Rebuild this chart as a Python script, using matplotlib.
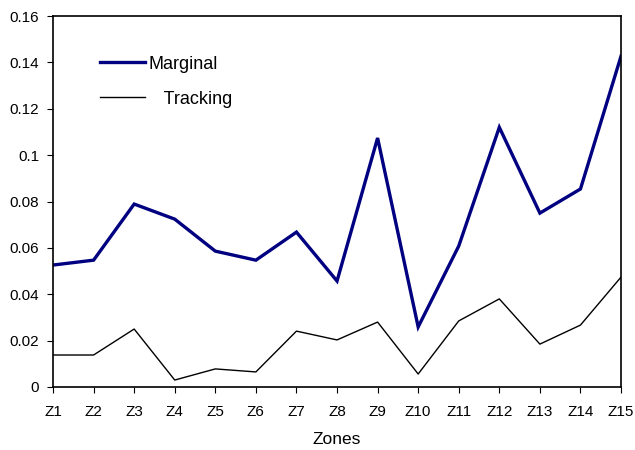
import matplotlib.pyplot as plt

plt.rcParams['font.family'] = ['Liberation Sans', 'DejaVu Sans']

zones = ['Z1', 'Z2', 'Z3', 'Z4', 'Z5', 'Z6', 'Z7', 'Z8', 'Z9', 'Z10',
         'Z11', 'Z12', 'Z13', 'Z14', 'Z15']
marginal = [0.0526, 0.0547, 0.0789, 0.0724, 0.0586, 0.0547, 0.0668, 0.0457,
            0.1074, 0.0259, 0.0608, 0.1120, 0.0750, 0.0854, 0.1427]
tracking = [0.0138, 0.0138, 0.0250, 0.0030, 0.0078, 0.0065, 0.0241, 0.0203,
            0.0280, 0.0056, 0.0285, 0.0380, 0.0185, 0.0267, 0.0474]

fig = plt.figure(figsize=(6.35, 4.5), dpi=100)
ax = fig.add_axes([0.0835, 0.14, 0.8945, 0.8244])

x = range(len(zones))
ax.plot(x, marginal, color='#000080', lw=2.4, label='Marginal', solid_joinstyle='miter')
ax.plot(x, tracking, color='black', lw=1.0, label='   Tracking')

ax.set_xlim(0, len(zones) - 1)
ax.set_ylim(0, 0.16)
ax.set_xticks(list(x))
ax.set_xticklabels(zones)
ax.set_yticks([0, 0.02, 0.04, 0.06, 0.08, 0.1, 0.12, 0.14, 0.16])
ax.set_yticklabels(['0', '0.02', '0.04', '0.06', '0.08', '0.1', '0.12', '0.14', '0.16'])
ax.tick_params(direction='out', length=4, labelsize=11, pad=6)
ax.tick_params(axis='x', pad=9)
for s in ax.spines.values():
    s.set_linewidth(1.2)
ax.set_xlabel('Zones', fontsize=12.5, labelpad=9)

ax.legend(loc='upper left', frameon=False, fontsize=13, handlelength=2.5,
          handletextpad=0.2, labelspacing=1.0, borderpad=0, borderaxespad=0,
          bbox_to_anchor=(0.083, 0.893))

fig.savefig('out.png', dpi=100)
